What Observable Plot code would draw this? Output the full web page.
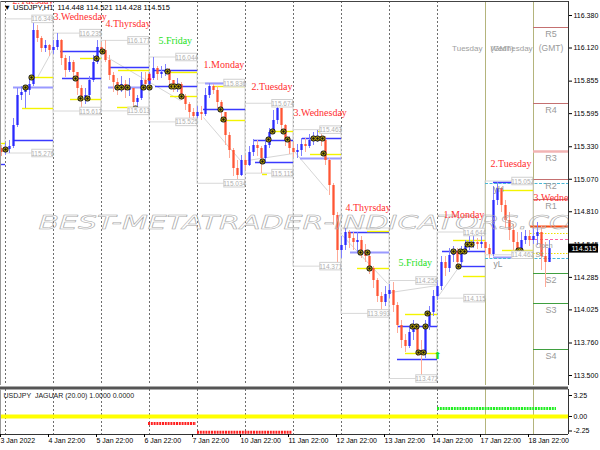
<!DOCTYPE html>
<html><head><meta charset="utf-8">
<script src="https://cdn.jsdelivr.net/npm/d3@7"></script>
<script src="https://cdn.jsdelivr.net/npm/@observablehq/plot@0.6"></script>
<style>
body{margin:0;background:#fff;}
#wrap{position:relative;width:600px;height:450px;overflow:hidden;background:#fff;}
#main{position:absolute;left:0;top:0;}
#ind{position:absolute;left:0;top:386px;}
</style></head><body><div id="wrap"><div id="main"></div><div id="ind"></div></div>
<script>
// ---------- data ----------
const firstOpen = 115.316;
const closes = [115.284,115.308,115.332,115.500,115.740,115.764,115.780,115.828,116.260,116.196,
116.116,116.140,116.100,116.124,116.180,116.036,115.940,116.004,115.924,115.796,
115.700,115.740,115.860,116.004,116.124,116.100,116.020,115.900,115.844,115.812,
115.828,115.780,115.796,115.684,115.716,115.860,115.828,115.876,115.956,115.908,
115.924,115.940,115.860,115.812,115.828,115.732,115.668,115.604,115.572,115.604,
115.588,115.740,115.812,115.780,115.684,115.604,115.420,115.300,115.156,115.100,
115.220,115.180,115.284,115.340,115.316,115.236,115.340,115.444,115.540,115.636,
115.500,115.380,115.316,115.284,115.300,115.348,115.332,115.380,115.396,115.412,
115.380,115.220,115.020,114.780,114.500,114.540,114.644,114.596,114.564,114.580,
114.500,114.452,114.356,114.260,114.132,114.084,114.148,114.180,114.060,113.900,
113.780,113.732,113.844,113.892,113.700,113.668,113.892,114.004,114.132,114.212,
114.404,114.356,114.460,114.492,114.404,114.484,114.532,114.556,114.564,114.548,
114.564,114.516,114.468,114.900,114.996,114.860,114.740,114.660,114.564,114.500,
114.580,114.612,114.580,114.612,114.644,114.452,114.404,114.515];
const highs = [115.340,115.356,115.380,115.556,115.796,115.812,115.820,115.876,116.340,116.300,
116.212,116.180,116.148,116.180,116.236,116.188,116.060,116.052,116.020,115.924,
115.820,115.796,115.892,116.060,116.180,116.164,116.180,116.060,115.924,115.876,
115.892,115.860,115.876,115.796,115.740,115.924,115.924,115.924,116.044,115.972,
115.972,115.988,115.956,115.860,115.876,115.844,115.748,115.684,115.636,115.652,
115.652,115.796,115.836,115.828,115.812,115.700,115.604,115.444,115.316,115.220,
115.260,115.260,115.332,115.388,115.380,115.332,115.380,115.476,115.620,115.676,
115.636,115.508,115.412,115.364,115.348,115.396,115.396,115.428,115.444,115.460,
115.452,115.412,115.236,115.036,114.804,114.612,114.676,114.660,114.644,114.644,
114.612,114.548,114.484,114.372,114.276,114.164,114.212,114.228,114.244,114.084,
113.940,113.828,113.892,113.940,113.908,113.780,113.940,114.052,114.180,114.260,
114.452,114.452,114.516,114.532,114.516,114.532,114.580,114.612,114.644,114.596,
114.612,114.580,114.548,115.012,115.044,115.004,114.900,114.804,114.708,114.644,
114.644,114.660,114.660,114.676,114.724,114.692,114.564,114.580];
const lows = [115.252,115.260,115.276,115.316,115.484,115.700,115.636,115.740,115.812,116.164,
116.084,116.084,116.052,116.068,116.100,115.980,115.884,115.924,115.860,115.740,
115.612,115.668,115.716,115.844,115.988,116.060,116.004,115.860,115.764,115.740,
115.764,115.716,115.732,115.652,115.612,115.700,115.780,115.796,115.860,115.860,
115.876,115.892,115.796,115.764,115.764,115.700,115.620,115.556,115.524,115.556,
115.540,115.572,115.716,115.748,115.636,115.540,115.340,115.236,115.092,115.036,
115.092,115.140,115.172,115.252,115.252,115.116,115.204,115.316,115.428,115.508,
115.460,115.332,115.268,115.244,115.236,115.252,115.284,115.316,115.340,115.364,
115.332,115.180,114.940,114.700,114.372,114.436,114.500,114.516,114.500,114.484,
114.436,114.404,114.308,114.196,114.084,113.996,114.052,114.116,114.004,113.836,
113.716,113.684,113.716,113.780,113.652,113.468,113.636,113.860,113.972,114.100,
114.180,114.292,114.324,114.404,114.356,114.372,114.468,114.500,114.516,114.508,
114.516,114.468,114.436,114.452,114.860,114.804,114.676,114.580,114.500,114.460,
114.484,114.548,114.532,114.548,114.540,114.340,114.204,114.404];

const dayStart = [0,24,48,72,96,120,144,168,192,216,240,264];
const timeLabels = ["3 Jan 2022","4 Jan 22:00","5 Jan 22:00","6 Jan 22:00","7 Jan 22:00","10 Jan 22:00","11 Jan 22:00","12 Jan 22:00","13 Jan 22:00","14 Jan 22:00","17 Jan 22:00","18 Jan 22:00"];
const dayNames = ["2.Tuesday","3.Wednesday","4.Thyrsday","5.Friday","1.Monday","2.Tuesday","3.Wednesday","4.Thyrsday","5.Friday","1.Monday","2.Tuesday","3.Wednesday"];
const dayLabelBar = [3.5,24,50,76.5,99,123,144,170,196.5,219,242.5,264];
const dayLabelPrice = [116.496,116.372,116.316,116.180,115.988,115.812,115.604,114.844,114.404,114.788,115.196,114.924];
const dayHigh = [116.349,116.235,116.177,116.044,115.836,115.674,115.463,114.676,114.256,114.644,115.052];
const dayLow  = [115.276,115.612,115.613,115.525,115.034,115.115,114.371,113.993,113.472,114.115,114.462];
const dayHighLabelShown = [true,true,true,true,true,true,true,false,true,true,true];

const levelStart = [-2.5,-2.5,4,4,8.5,13.5,27.5,28.5,37.5,32.5,52.5,51.5,56.5,56,74,75,80,82.5,100,104,99,107.5,124,125,132.5,128.5,148.5,147.5,156,152.5,171.5,172.5,181,176,196,196,200,200,218.5,226,224,229,244,248.5,244,248.5];
const levelEnd   = [0,0,24,24,24,24,48,48,48,48,72,72,72,65,96,96,96,96,120,120,120,120,144,144,144,131,168,168,168,168,192,192,192,192,216,216,216,216,240,240,240,240,264,264,264,264];
const levelPrice = [115.356,115.188,115.804,115.380,115.636,115.884,116.092,115.876,116.036,115.708,115.964,115.804,115.940,115.644,115.940,115.812,115.924,115.732,115.836,115.812,115.628,115.540,115.380,115.204,115.452,115.108,115.396,115.236,115.452,115.268,114.644,114.484,114.652,114.356,113.892,113.628,113.988,113.676,114.492,114.372,114.580,114.292,115.044,114.980,114.444,114.500];
const levelKind  = ["Y","B","L","B","Y","Y","B","B","Y","Y","B","L","Y","Y","B","B","Y","Y","L","Y","B","Y","B","B","Y","Y","B","L","Y","Y","B","L","Y","Y","B","B","Y","Y","B","B","Y","Y","B","Y","L","Y"];

const zzBar1 = [16,51,99,121,144,167.5,192.5,216];
const zzPrice1 = [115.884,116.044,115.564,115.220,115.300,114.636,114.164,114.124];
const zzBar2 = [24,87.5,117.5,144,161,191,216,229];
const zzPrice2 = [116.116,115.700,115.220,115.276,114.980,114.236,114.220,114.420];

const markBar = [0,10,13,35,37.5,41,45.5,48.5,56,58,61,65,69,72,81,83,84.5,86.5,88,107.5,109,128.5,131.5,133.5,139,141,154,156,158.5,159,177.5,181,182,203.5,205.5,206.5,209,210,211,224,226.5,227.5,229.5,231,233,256.5,257.5];
const markPrice = [115.308,115.804,115.884,115.876,115.716,115.716,116.036,116.092,115.804,115.804,115.804,115.636,115.804,115.804,115.932,115.812,115.812,115.812,115.732,115.628,115.548,115.212,115.388,115.452,115.452,115.388,115.396,115.396,115.396,115.276,114.484,114.484,114.356,113.892,113.892,113.684,113.684,113.892,113.996,114.492,114.372,114.492,114.492,114.548,114.548,114.500,114.500];

const arrowBar = [72,216];
const arrowPrice = [115.884,113.660];
const arrowDir = ["down","up"];

const pivotNames = ["R5","R4","R3","R2","R1","S2","S3","S4"];
const pivotPrice = [116.284,115.676,115.292,115.068,114.908,114.316,114.076,113.708];

const curStart = [240,240,262.5,262.5,262.5,262.5];
const curPrice = [115.036,114.436,114.692,114.588,114.636,114.476];
const curKind = ["cyan","cyan","open","pink","ydot","ydot"];

const priceTicks = [116.380,116.120,115.855,115.595,115.330,115.070,114.810,114.545,114.285,114.025,113.760,113.500];
const lastClose = 114.515;
const headerText = "\u25BC USDJPY,H1  114.448 114.521 114.428 114.515";
const watermarkText = "BEST-METATRADER-INDICATORS.COM";
const separators = [240,264];
const prevDayName = "Tuesday", prevDayBar = 238.5;
const curDayNames = ["Wednesday","(GMT)"], curDayBar = 242.5;
const topPrice = 116.116;
const yhylNames = ["yH","yL"];
const yhylPrice = [114.988,114.388];
const clusterNames = ["Open","S1"];
const clusterPrice = [114.540,114.470];

const indLabel = "USDJPY  JAGUAR (20.00) 1.0000 0.0000";
const indTicks = [3.25,0,-2.25];
const sigStart = [71.5,96,216];
const sigEnd = [95.5,143.5,275.5];
const sigValue = [-1.1,-2.45,1.25];
const sigKind = ["sell","sell","buy"];

// ---------- tables ----------
const X0 = -2.5, X1 = 281.5;
const candles = closes.map((c,i)=>({t:2*i-2, o:i===0?firstOpen:closes[i-1], h:highs[i], l:lows[i], c}));
const up = candles.filter(d=>d.c>=d.o), dn = candles.filter(d=>d.c<d.o);
const days = dayHigh.map((h,i)=>({s:dayStart[i], e:dayStart[i+1], h, l:dayLow[i]}));
const hiLo = days.flatMap((d,i)=>(dayHighLabelShown[i]?[{e:d.e,p:d.h}]:[]).concat([{e:d.e,p:d.l}]));
const levels = levelPrice.map((p,i)=>({s:levelStart[i], e:levelEnd[i], p, k:levelKind[i]}));
const zz = zzBar1.map((b,i)=>({b1:b,p1:zzPrice1[i],b2:zzBar2[i],p2:zzPrice2[i]}));
const marks = markBar.map((b,i)=>({b,p:markPrice[i]}));
const arrows = arrowBar.map((b,i)=>({b,p:arrowPrice[i],d:arrowDir[i]}));
const pivots = pivotNames.map((n,i)=>({n,p:pivotPrice[i]}));
const curs = curPrice.map((p,i)=>({s:curStart[i],p,k:curKind[i]}));
const dayLbl = dayNames.map((n,i)=>({n,b:dayLabelBar[i],p:dayLabelPrice[i],g:n.includes("Friday")}));
const sigs = sigValue.map((v,i)=>({s:sigStart[i],e:sigEnd[i],v,k:sigKind[i]}));
const pivX = (dayStart[dayStart.length-1]+X1)/2;

const FONT = "'Liberation Sans', Arial, sans-serif";

const main = Plot.plot({
  width:600, height:388, marginTop:1, marginBottom:3, marginLeft:0, marginRight:32,
  x:{domain:[X0,X1], axis:null},
  y:{domain:[113.42,116.492], axis:null},
  style:{fontFamily:FONT, background:"white"},
  marks:[
    Plot.ruleX(dayStart, {stroke:"#6e6e6e", strokeDasharray:"2,2"}),
    Plot.ruleX(separators, {stroke:"#b4b47c"}),
    Plot.rect(days, {x1:"s", x2:"e", y1:"l", y2:"h", fill:"none", stroke:"#d8d8d8"}),
    Plot.link(zz, {x1:"b1", y1:"p1", x2:"b2", y2:"p2", stroke:"#d6d6d6"}),
    Plot.ruleY(levels.filter(d=>d.k==="L"), {y:"p", x1:"s", x2:"e", stroke:"#9a9aff", strokeWidth:2.2}),
    Plot.ruleY(levels.filter(d=>d.k==="B"), {y:"p", x1:"s", x2:"e", stroke:"#3a3aff", strokeWidth:1.4}),
    Plot.ruleY(levels.filter(d=>d.k==="Y"), {y:"p", x1:"s", x2:"e", stroke:"#f4f400", strokeWidth:1.4}),
    Plot.ruleY(pivots.filter(d=>d.n[0]==="R" && d.n!=="R3"), {y:"p", x1:264, x2:X1, stroke:"#c47070"}),
    Plot.ruleY(pivots.filter(d=>d.n==="R3"), {y:"p", x1:264, x2:X1, stroke:"#f2b4b4", strokeWidth:2.5}),
    Plot.ruleY(pivots.filter(d=>d.n[0]==="S"), {y:"p", x1:264, x2:X1, stroke:"#3f9f3f"}),
    Plot.ruleY(curs.filter(d=>d.k==="cyan"), {y:"p", x1:"s", x2:X1, stroke:"#4ab8d8", strokeDasharray:"3,1.5"}),
    Plot.ruleY(curs.filter(d=>d.k==="open"), {y:"p", x1:"s", x2:X1, stroke:"#ff4a10", strokeWidth:2}),
    Plot.ruleY(curs.filter(d=>d.k==="pink"), {y:"p", x1:"s", x2:X1, stroke:"#ff60a0", strokeDasharray:"3,2"}),
    Plot.ruleY(curs.filter(d=>d.k==="ydot"), {y:"p", x1:"s", x2:X1, stroke:"#f0e000", strokeDasharray:"1.5,1.5"}),
    Plot.ruleX(up, {x:"t", y1:"l", y2:"h", stroke:"#8080ff"}),
    Plot.ruleX(dn, {x:"t", y1:"l", y2:"h", stroke:"#ffab98"}),
    Plot.ruleX(up, {x:"t", y1:"o", y2:"c", stroke:"#2a2aff", strokeWidth:2.3}),
    Plot.ruleX(dn, {x:"t", y1:"o", y2:"c", stroke:"#ff5533", strokeWidth:2.3}),
    Plot.text([watermarkText], {frameAnchor:"left", dx:38, dy:29, textAnchor:"start", fontSize:19, fontStyle:"italic", fontFamily:"'DejaVu Sans', sans-serif", fill:"none", stroke:"#a8a8a8", strokeWidth:0.5, clip:true}),
    Plot.dot(marks, {x:"b", y:"p", r:3, fill:"#151515"}),
    Plot.dot(marks, {x:"b", y:"p", r:1.7, fill:"none", stroke:"#e8cc00", strokeWidth:0.8}),
    Plot.text(arrows.filter(d=>d.d==="down"), {x:"b", y:"p", text:()=>"\u2B07", fill:"#ff1a1a", fontSize:10, fontFamily:"'DejaVu Sans', sans-serif"}),
    Plot.text(arrows.filter(d=>d.d==="up"), {x:"b", y:"p", text:()=>"\u2B06", fill:"#22dd22", fontSize:10, fontFamily:"'DejaVu Sans', sans-serif"}),
    Plot.rect(hiLo, {x1:d=>d.e-10.6, x2:d=>d.e-0.2, y1:d=>d.p-0.03, y2:d=>d.p+0.03, fill:"white", stroke:"#d0d0d0"}),
    Plot.text(hiLo, {x:d=>d.e-5.4, y:"p", text:d=>d.p.toFixed(3), fill:"#b0b0b0", fontSize:6.5}),
    Plot.text(dayLbl.filter(d=>!d.g), {x:"b", y:"p", text:"n", textAnchor:"start", fill:"#ff2e2e", fontSize:10, fontFamily:"'Liberation Serif', 'Times New Roman', serif", clip:true}),
    Plot.text(dayLbl.filter(d=>d.g), {x:"b", y:"p", text:"n", textAnchor:"start", fill:"#1ee01e", fontSize:10, fontFamily:"'Liberation Serif', 'Times New Roman', serif", clip:true}),
    Plot.text(pivots, {x:pivX, y:"p", text:"n", dy:6.5, fill:"#9a9a9a", fontSize:9}),
    Plot.text(pivots.slice(0,1), {x:pivX, y:"p", text:()=>"(GMT)", dy:21, fill:"#9a9a9a", fontSize:8.5}),
    Plot.text([prevDayName], {x:prevDayBar, y:topPrice, textAnchor:"end", fill:"#a0a0a0", fontSize:8}),
    Plot.text(curDayNames, {x:curDayBar, y:topPrice, textAnchor:"start", fill:"#a0a0a0", fontSize:8}),
    Plot.text(yhylNames.map((n,i)=>({n,p:yhylPrice[i]})), {x:244, y:"p", text:"n", textAnchor:"start", fill:"#909090", fontSize:8.5}),
    Plot.text(clusterNames.map((n,i)=>({n,p:clusterPrice[i]})), {x:265, y:"p", text:"n", textAnchor:"start", fill:"#9a9a9a", fontSize:7, clip:true}),
    Plot.text([headerText], {frameAnchor:"top-left", dx:3, dy:3, textAnchor:"start", fontSize:7.5, fill:"#000"}),
    Plot.ruleY([116.492], {stroke:"#444"}),
    Plot.ruleX([X0], {stroke:"#999"}),
    Plot.ruleX([X1], {stroke:"#333"}),
    Plot.axisY(priceTicks, {anchor:"right", tickSize:3, tickPadding:2, tickFormat:d=>d.toFixed(3), fontSize:7, label:null}),
    Plot.rect([lastClose], {x1:X1, x2:X1+15, y1:d=>d-0.036, y2:d=>d+0.036, fill:"black"}),
    Plot.text([lastClose], {x:X1, y:d=>d, text:d=>d.toFixed(3), textAnchor:"start", dx:3, fill:"white", fontSize:7})
  ]
});
d3.select(main).selectAll("text").filter(function(){return this.textContent===watermarkText;})
  .attr("textLength",560).attr("lengthAdjust","spacingAndGlyphs");
document.getElementById("main").appendChild(main);

const tickMap = new Map(dayStart.map((d,i)=>[d-2, timeLabels[i]]));
const ind = Plot.plot({
  width:600, height:64, marginTop:3, marginBottom:16, marginLeft:0, marginRight:32,
  x:{domain:[X0,X1], axis:null},
  y:{domain:[-2.79,4.18], axis:null},
  style:{fontFamily:FONT, background:"white"},
  marks:[
    Plot.ruleX(dayStart, {stroke:"#6e6e6e", strokeDasharray:"2,2"}),
    Plot.ruleX(separators, {stroke:"#b4b47c"}),
    Plot.ruleY([0], {x1:X0, x2:X1, stroke:"#ffff00", strokeWidth:4}),
    Plot.ruleY(sigs.filter(d=>d.k==="sell"), {y:"v", x1:"s", x2:"e", stroke:"#ff2020", strokeWidth:3, strokeDasharray:"2,0.8"}),
    Plot.ruleY(sigs.filter(d=>d.k==="buy"), {y:"v", x1:"s", x2:"e", stroke:"#22ee22", strokeWidth:3, strokeDasharray:"2,0.8"}),
    Plot.text([indLabel], {frameAnchor:"top-left", dx:3, dy:4, textAnchor:"start", fontSize:7, fill:"#222"}),
    Plot.ruleY([4.18], {stroke:"#555", strokeWidth:3, dy:-1.5}),
    Plot.ruleY([-2.79], {stroke:"#333"}),
    Plot.ruleX([X0], {stroke:"#999"}),
    Plot.ruleX([X1], {stroke:"#333"}),
    Plot.axisY(indTicks, {anchor:"right", tickSize:3, tickPadding:2, tickFormat:d=>d.toFixed(2), fontSize:7, label:null}),
    Plot.axisX([...tickMap.keys()], {anchor:"bottom", tickSize:3, tickPadding:1, tickFormat:d=>tickMap.get(d), textAnchor:"start", dx:-1, fontSize:7, label:null})
  ]
});
document.getElementById("ind").appendChild(ind);
</script></body></html>
